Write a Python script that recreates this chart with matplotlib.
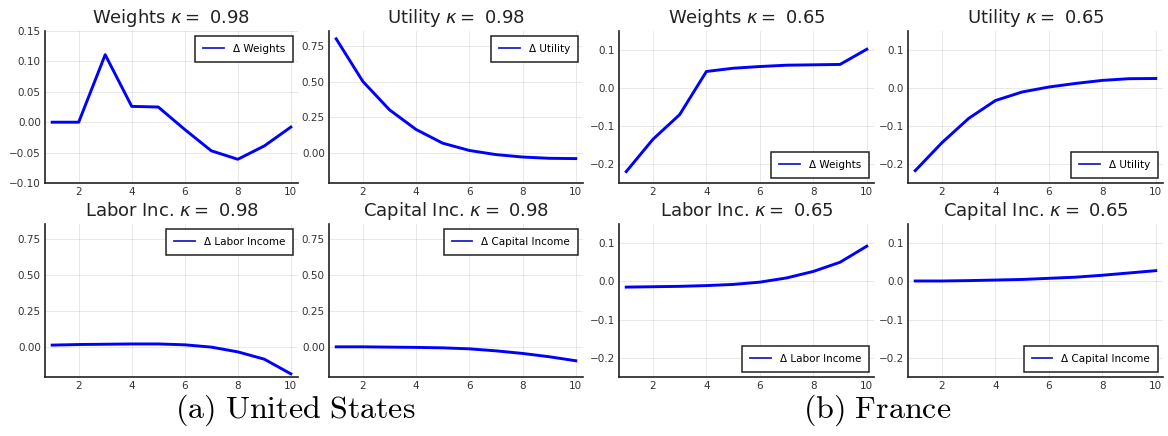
import matplotlib
matplotlib.use("Agg")
import matplotlib.pyplot as plt
import numpy as np

# periods
x = np.arange(1, 11)

# United States, kappa = 0.98
us_weights = [0.0, 0.0, 0.111, 0.026, 0.025, -0.012, -0.047, -0.061, -0.039, -0.008]
us_utility = [0.80, 0.502, 0.303, 0.165, 0.069, 0.018, -0.011, -0.028, -0.037, -0.039]
us_labor = [0.012, 0.016, 0.018, 0.020, 0.020, 0.014, -0.002, -0.035, -0.086, -0.188]
us_capital = [0.0, 0.0, -0.002, -0.004, -0.007, -0.014, -0.028, -0.046, -0.069, -0.097]

# France, kappa = 0.65
fr_weights = [-0.22, -0.135, -0.07, 0.0435, 0.052, 0.0565, 0.06, 0.061, 0.062, 0.102]
fr_utility = [-0.2175, -0.144, -0.08, -0.033, -0.0105, 0.0026, 0.012, 0.020, 0.0245, 0.025]
fr_labor = [-0.015, -0.014, -0.013, -0.011, -0.008, -0.002, 0.009, 0.026, 0.050, 0.092]
fr_capital = [0.001, 0.001, 0.002, 0.0035, 0.005, 0.008, 0.011, 0.016, 0.022, 0.028]

W, H = 1168, 436
fig = plt.figure(figsize=(W / 100, H / 100), dpi=100)


def make_ax(left, top, width, height):
    return fig.add_axes([left / W, 1 - (top + height) / H, width / W, height / H])


def panel(ax, y, title, label, ylim, yticks, fmt, loc):
    ax.plot(x, y, color="blue", lw=2.1, label=label)
    ax.set_xlim(0.73, 10.27)
    ax.set_ylim(*ylim)
    ax.set_xticks([2, 4, 6, 8, 10])
    ax.set_yticks(yticks)
    ax.set_yticklabels([fmt.format(v).replace("-", "\u2212") for v in yticks])
    ax.grid(True, color="black", alpha=0.1, lw=0.6)
    for s in ["top", "right"]:
        ax.spines[s].set_visible(False)
    for s in ["left", "bottom"]:
        ax.spines[s].set_linewidth(1.2)
        ax.spines[s].set_color("#222222")
    ax.tick_params(length=0, labelsize=7.5, colors="#333333", pad=3)
    ax.set_title(title, fontsize=13, pad=5.5, color="#222222")
    leg = ax.legend(loc=loc, fontsize=7.5, fancybox=False, framealpha=1,
                    edgecolor="#222222", borderaxespad=0.5, borderpad=0.75,
                    handlelength=2.0, handletextpad=0.85)
    leg.get_frame().set_linewidth(1.1)
    for h in leg.get_lines():
        h.set_linewidth(1.3)
        h.set_color("#2020c0")


us_top = (-0.1, 0.15)
us_rest = (-0.21, 0.855)
fr_lim = (-0.25, 0.15)
us_w_ticks = [-0.10, -0.05, 0.00, 0.05, 0.10, 0.15]
us_ticks = [0.00, 0.25, 0.50, 0.75]
fr_ticks = [-0.2, -0.1, 0.0, 0.1]

panel(make_ax(45, 31, 253, 152), us_weights, r"Weights $\kappa =$ 0.98",
      "\u0394 Weights", us_top, us_w_ticks, "{:.2f}", "upper right")
panel(make_ax(329, 31, 254, 152), us_utility, r"Utility $\kappa =$ 0.98",
      "\u0394 Utility", us_rest, us_ticks, "{:.2f}", "upper right")
panel(make_ax(45, 224, 253, 153), us_labor, r"Labor Inc. $\kappa =$ 0.98",
      "\u0394 Labor Income", us_rest, us_ticks, "{:.2f}", "upper right")
panel(make_ax(329, 224, 254, 153), us_capital, r"Capital Inc. $\kappa =$ 0.98",
      "\u0394 Capital Income", us_rest, us_ticks, "{:.2f}", "upper right")

panel(make_ax(619, 31, 255, 152), fr_weights, r"Weights $\kappa =$ 0.65",
      "\u0394 Weights", fr_lim, fr_ticks, "{:.1f}", "lower right")
panel(make_ax(908, 31, 255, 152), fr_utility, r"Utility $\kappa =$ 0.65",
      "\u0394 Utility", fr_lim, fr_ticks, "{:.1f}", "lower right")
panel(make_ax(619, 224, 255, 153), fr_labor, r"Labor Inc. $\kappa =$ 0.65",
      "\u0394 Labor Income", fr_lim, fr_ticks, "{:.1f}", "lower right")
panel(make_ax(908, 224, 255, 153), fr_capital, r"Capital Inc. $\kappa =$ 0.65",
      "\u0394 Capital Income", fr_lim, fr_ticks, "{:.1f}", "lower right")

fig.text(295 / W, 1 - 410 / H, r"$\mathrm{(a)\ United\ States}$", fontsize=23,
         ha="center", va="center", math_fontfamily="cm")
fig.text(877 / W, 1 - 410 / H, r"$\mathrm{(b)\ France}$", fontsize=23,
         ha="center", va="center", math_fontfamily="cm")

fig.savefig("out.png", dpi=100)
